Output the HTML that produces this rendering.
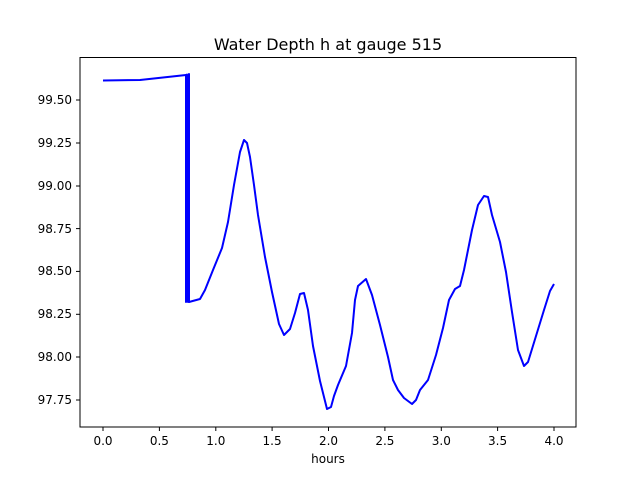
<!DOCTYPE html>
<html><head><meta charset="utf-8"><style>
body{margin:0;background:#fff}
svg text{font-family:"DejaVu Sans","Liberation Sans",sans-serif;fill:#000}
</style></head><body>
<svg width="640" height="480" viewBox="0 0 640 480" xmlns="http://www.w3.org/2000/svg">
<rect width="640" height="480" fill="#fff"/>
<text x="328" y="50" font-size="16" text-anchor="middle">Water Depth h at gauge 515</text>
<g stroke="#000" stroke-width="1">
<line x1="103" y1="427" x2="103" y2="431"/><line x1="159.4" y1="427" x2="159.4" y2="431"/>
<line x1="215.8" y1="427" x2="215.8" y2="431"/><line x1="272.1" y1="427" x2="272.1" y2="431"/>
<line x1="328.5" y1="427" x2="328.5" y2="431"/><line x1="384.9" y1="427" x2="384.9" y2="431"/>
<line x1="441.3" y1="427" x2="441.3" y2="431"/><line x1="497.6" y1="427" x2="497.6" y2="431"/>
<line x1="554" y1="427" x2="554" y2="431"/>
<line x1="76" y1="100" x2="80" y2="100"/><line x1="76" y1="143" x2="80" y2="143"/>
<line x1="76" y1="186" x2="80" y2="186"/><line x1="76" y1="228.6" x2="80" y2="228.6"/>
<line x1="76" y1="271.4" x2="80" y2="271.4"/><line x1="76" y1="314.3" x2="80" y2="314.3"/>
<line x1="76" y1="357" x2="80" y2="357"/><line x1="76" y1="400" x2="80" y2="400"/>
</g>
<g font-size="12" text-anchor="middle">
<text x="103" y="445">0.0</text><text x="159.4" y="445">0.5</text><text x="215.8" y="445">1.0</text>
<text x="272.1" y="445">1.5</text><text x="328.5" y="445">2.0</text><text x="384.9" y="445">2.5</text>
<text x="441.3" y="445">3.0</text><text x="497.6" y="445">3.5</text><text x="554" y="445">4.0</text>
<text x="328" y="463">hours</text>
</g>
<g font-size="12" text-anchor="end">
<text x="72" y="104">99.50</text><text x="72" y="147">99.25</text><text x="72" y="190">99.00</text>
<text x="72" y="233">98.75</text><text x="72" y="275">98.50</text><text x="72" y="318">98.25</text>
<text x="72" y="361">98.00</text><text x="72" y="404">97.75</text>
</g>
<polyline fill="none" stroke="#0000ff" stroke-width="2" stroke-linejoin="round" points="103,80.5 140,80 186,75 186,302 187,74.5 188,302 189,74 189,302 200,299 205,290 213,270 222,248 228,222 234,185 240,152 244,140 247,143 250,157 254,185 258,215 265,257 272,292 279,324 284,335 290,329 295,313 300,294 304,293 308,310 313,346 320,381 327,409 331,407 334,396 338,385 346,366 352,333 355,300 358,286 366,279 372,295 380,325 388,357 393,380 398,390 404,398 412,404 416,400 420,390 428,380 436,355 443,328 449,300 455,289 460,286 464,270 472,230 478,205 484,196 488,197 492,215 500,242 506,272 512,312 518,350 524,366 528,362 536,336 544,310 550,291 554,284"/>
<rect x="80" y="57.5" width="496" height="369.5" fill="none" stroke="#000" stroke-width="1"/>
</svg>
</body></html>
